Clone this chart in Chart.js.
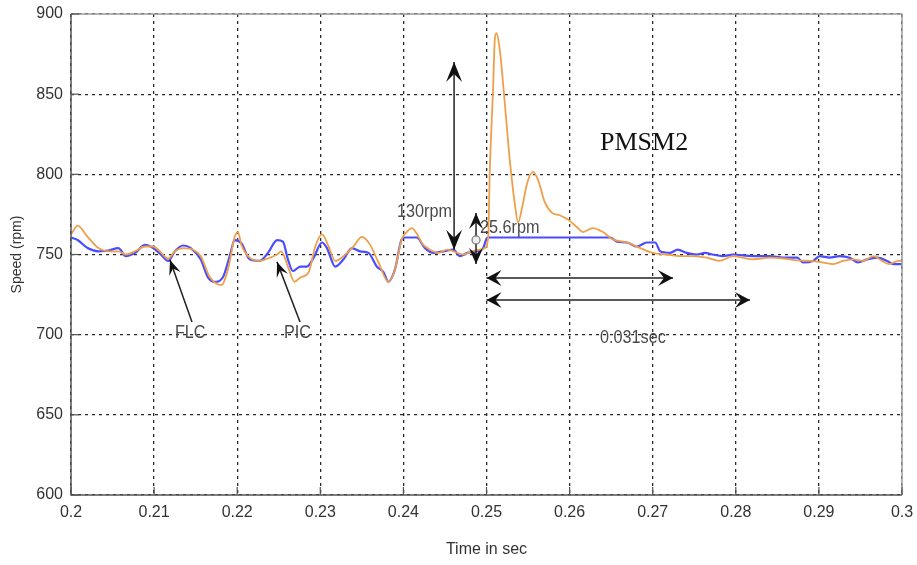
<!DOCTYPE html>
<html>
<head>
<meta charset="utf-8">
<title>PMSM2 speed response</title>
<script src="https://cdn.jsdelivr.net/npm/chart.js@4.4.1/dist/chart.umd.min.js"></script>
<style>
  html, body { margin: 0; padding: 0; background: #fff; }
  #wrap { width: 917px; height: 565px; }
</style>
</head>
<body>
<div id="wrap"><canvas id="speed-chart" width="917" height="565"></canvas></div>
<script>
// FLC speed (rpm) against time (s)
const flcTime = [
  0.2000, 0.2008, 0.2020, 0.2033, 0.2045, 0.2057, 0.2066, 0.2077, 0.2089, 0.2099,
  0.2108, 0.2117, 0.2125, 0.2135, 0.2144, 0.2156, 0.2165, 0.2173, 0.2183, 0.2191,
  0.2197, 0.2205, 0.2215, 0.2227, 0.2237, 0.2248, 0.2255, 0.2261, 0.2267, 0.2276,
  0.2284, 0.2292, 0.2302, 0.2308, 0.2318, 0.2328, 0.2338, 0.2348, 0.2358, 0.2368,
  0.2376, 0.2382, 0.2390, 0.2398, 0.2402, 0.2416, 0.2426, 0.2436, 0.2448, 0.2460,
  0.2468, 0.2477, 0.2489, 0.2496, 0.2501, 0.2649, 0.2657, 0.2669, 0.2681, 0.2693,
  0.2703, 0.2709, 0.2721, 0.2730, 0.2741, 0.2753, 0.2763, 0.2772, 0.2784, 0.2797,
  0.2820, 0.2841, 0.2857, 0.2874, 0.2881, 0.2893, 0.2901, 0.2913, 0.2925, 0.2937,
  0.2947, 0.2958, 0.2970, 0.2982, 0.2990, 0.3000
];
const flcSpeed = [
  760.6, 759, 754, 752, 752.5, 754, 749, 751, 756, 754,
  750, 746, 752, 755.6, 754, 747, 735.6, 733, 736, 749,
  759, 757, 747, 746, 751, 759, 758, 747, 739.7, 742.5,
  742.5, 748, 757.5, 754, 742.5, 747, 754, 752, 751, 742.5,
  739, 733, 741, 759.5, 760.6, 760.6, 754, 751, 752, 753,
  749, 751, 752, 754, 760.6, 760.6, 758, 757.5, 755, 757.5,
  757.5, 752, 751, 753, 751, 750, 751, 750, 749, 750,
  749, 749, 748, 748, 745, 746, 749, 748, 749, 748,
  745, 747, 748, 746, 744, 744
];

// PIC speed (rpm) against time (s)
const picTime = [
  0.2000, 0.2008, 0.2020, 0.2033, 0.2045, 0.2057, 0.2066, 0.2077, 0.2089, 0.2099,
  0.2105, 0.2117, 0.2125, 0.2135, 0.2147, 0.2156, 0.2167, 0.2181, 0.2189, 0.2197,
  0.2201, 0.2205, 0.2215, 0.2227, 0.2237, 0.2248, 0.2253, 0.2261, 0.2269, 0.2276,
  0.2286, 0.2294, 0.2302, 0.2310, 0.2318, 0.2328, 0.2340, 0.2350, 0.2360, 0.2370,
  0.2382, 0.2390, 0.2398, 0.2404, 0.2410, 0.2424, 0.2432, 0.2442, 0.2453, 0.2465,
  0.2472, 0.2482, 0.2492, 0.2498, 0.2502, 0.2504, 0.2508, 0.2510, 0.2512, 0.2516,
  0.2522, 0.2528, 0.2534, 0.2538, 0.2543, 0.2549, 0.2556, 0.2562, 0.2570, 0.2579,
  0.2588, 0.2598, 0.2609, 0.2616, 0.2628, 0.2640, 0.2652, 0.2669, 0.2685, 0.2700,
  0.2717, 0.2733, 0.2749, 0.2765, 0.2780, 0.2797, 0.2820, 0.2841, 0.2857, 0.2874,
  0.2889, 0.2905, 0.2917, 0.2929, 0.2941, 0.2953, 0.2966, 0.2976, 0.2984, 0.2996,
  0.3000
];
const picSpeed = [
  762.5, 768, 761, 754, 752, 752, 750, 752, 755, 755,
  753, 747.5, 752, 754, 753, 749, 736, 731, 741, 761,
  764, 756, 748, 746, 747.5, 750, 752, 742.5, 733, 735.6,
  739, 755, 762.5, 755, 746, 749, 755, 761, 756, 745,
  733, 741, 759.5, 764, 766.5, 756, 753, 751, 753, 751,
  750, 752, 753, 754, 761, 803, 854.5, 884, 888, 877.6,
  844.5, 809, 782, 770, 779.7, 794.6, 801.5, 796.5, 782.8, 776,
  774.5, 771.8, 767, 764, 766.5, 764, 759.4, 757.5, 754, 751,
  750, 749, 749, 748, 746, 749, 747, 748, 747.5, 746.3,
  746, 745, 744, 746, 747, 746, 749, 746, 744, 746,
  746
];

// axis ticks
const timeTicks = [0.2, 0.21, 0.22, 0.23, 0.24, 0.25, 0.26, 0.27, 0.28, 0.29, 0.3];
const speedTicks = [600, 650, 700, 750, 800, 850, 900];

// arrows and notes, in data units (time, rpm)
const arrowMarks = [
  { x1: 0.2461, y1: 753, x2: 0.2461, y2: 870, heads: "both", len: 20, half: 8 },
  { x1: 0.24874, y1: 744.1, x2: 0.24874, y2: 775.9, heads: "both", len: 16, half: 7 },
  { x1: 0.2500, y1: 735.4, x2: 0.27244, y2: 735.4, heads: "both", len: 15, half: 8 },
  { x1: 0.2500, y1: 721.6, x2: 0.28171, y2: 721.6, heads: "both", len: 15, half: 8 },
  { x1: 0.21456, y1: 707.9, x2: 0.21191, y2: 746.6, heads: "end", len: 15, half: 6 },
  { x1: 0.22756, y1: 707.9, x2: 0.22479, y2: 745.4, heads: "end", len: 15, half: 6 },
];
const noteLabels = [
  { x: 0.23923, y: 776.5, text: "130rpm" },
  { x: 0.24922, y: 766.6, text: "25.6rpm" },
  { x: 0.26366, y: 697.9, text: "0.031sec" },
  { x: 0.21251, y: 701, text: "FLC" },
  { x: 0.22563, y: 701, text: "PIC" },
];
const plotTitle = { x: 0.26366, y: 819.6, text: "PMSM2" };

const sans = "'Liberation Sans', Arial, sans-serif";

function drawHead(ctx, tx, ty, dx, dy, len, half) {
  const n = Math.hypot(dx, dy);
  const ux = dx / n, uy = dy / n;
  const px = -uy, py = ux;
  const bx = tx - ux * len, by = ty - uy * len;
  ctx.beginPath();
  ctx.moveTo(tx, ty);
  ctx.lineTo(bx + px * half, by + py * half);
  ctx.lineTo(tx - ux * len * 0.6, ty - uy * len * 0.6);
  ctx.lineTo(bx - px * half, by - py * half);
  ctx.closePath();
  ctx.fill();
}

// squeezed text, the labels are set in a narrow face
function narrowText(ctx, text, x, y, squeeze) {
  ctx.save();
  ctx.translate(x, y);
  ctx.scale(squeeze, 1);
  ctx.fillText(text, 0, 0);
  ctx.restore();
}

// frame, inner tick marks, arrows and text notes
const overlayPlugin = {
  id: "overlay",
  afterDatasetsDraw(chart) {
    const { ctx, chartArea: a, scales } = chart;
    const sx = scales.x, sy = scales.y;
    ctx.save();

    // axes box
    ctx.strokeStyle = "#9a9a9a";
    ctx.lineWidth = 1.5;
    ctx.beginPath();
    ctx.moveTo(a.left, a.top);
    ctx.lineTo(a.right, a.top);
    ctx.lineTo(a.right, a.bottom);
    ctx.stroke();
    ctx.strokeStyle = "#555";
    ctx.beginPath();
    ctx.moveTo(a.left, a.top);
    ctx.lineTo(a.left, a.bottom);
    ctx.lineTo(a.right, a.bottom);
    ctx.stroke();

    // MATLAB-style inward ticks
    ctx.lineWidth = 1.2;
    timeTicks.forEach((t) => {
      const x = sx.getPixelForValue(t);
      ctx.beginPath();
      ctx.moveTo(x, a.bottom);
      ctx.lineTo(x, a.bottom - 8);
      ctx.stroke();
    });
    speedTicks.forEach((v) => {
      const y = sy.getPixelForValue(v);
      ctx.beginPath();
      ctx.moveTo(a.left, y);
      ctx.lineTo(a.left + 8, y);
      ctx.stroke();
    });

    // arrows
    ctx.strokeStyle = "#222";
    ctx.fillStyle = "#111";
    ctx.lineWidth = 1.5;
    arrowMarks.forEach((m) => {
      const x1 = sx.getPixelForValue(m.x1), y1 = sy.getPixelForValue(m.y1);
      const x2 = sx.getPixelForValue(m.x2), y2 = sy.getPixelForValue(m.y2);
      ctx.beginPath();
      ctx.moveTo(x1, y1);
      ctx.lineTo(x2, y2);
      ctx.stroke();
      drawHead(ctx, x2, y2, x2 - x1, y2 - y1, m.len, m.half);
      if (m.heads === "both") drawHead(ctx, x1, y1, x1 - x2, y1 - y2, m.len, m.half);
    });

    // small marker on the 25.6rpm arrow
    ctx.beginPath();
    ctx.arc(sx.getPixelForValue(0.24874), sy.getPixelForValue(759.1), 4, 0, Math.PI * 2);
    ctx.fillStyle = "#eee";
    ctx.fill();
    ctx.strokeStyle = "#777";
    ctx.lineWidth = 1.2;
    ctx.stroke();

    // notes
    ctx.fillStyle = "#4a4a4a";
    ctx.font = "18px " + sans;
    ctx.textBaseline = "middle";
    ctx.textAlign = "left";
    noteLabels.forEach((n) => {
      narrowText(ctx, n.text, sx.getPixelForValue(n.x), sy.getPixelForValue(n.y), 0.9);
    });
    ctx.fillStyle = "#111";
    ctx.font = "26px 'Liberation Serif', 'Times New Roman', serif";
    ctx.fillText(plotTitle.text, sx.getPixelForValue(plotTitle.x), sy.getPixelForValue(plotTitle.y));

    ctx.restore();
  },
};

new Chart(document.getElementById("speed-chart"), {
  type: "line",
  data: {
    datasets: [
      {
        label: "PIC",
        data: picTime.map((t, i) => ({ x: t, y: picSpeed[i] })),
        borderColor: "#ef9f4a",
        borderWidth: 1.8,
        pointRadius: 0,
        cubicInterpolationMode: "monotone",
      },
      {
        label: "FLC",
        data: flcTime.map((t, i) => ({ x: t, y: flcSpeed[i] })),
        borderColor: "#4a4cff",
        borderWidth: 2.2,
        pointRadius: 0,
        cubicInterpolationMode: "monotone",
      },
    ],
  },
  options: {
    responsive: false,
    animation: false,
    devicePixelRatio: 1,
    layout: { padding: { top: 14, right: 15, left: 0, bottom: 0 } },
    plugins: { legend: { display: false }, tooltip: { enabled: false } },
    scales: {
      x: {
        type: "linear",
        min: 0.2,
        max: 0.3,
        afterBuildTicks: (scale) => {
          scale.ticks = timeTicks.map((v) => ({ value: v }));
        },
        afterFit: (scale) => {
          scale.height = 70;
          scale.paddingLeft = 0;
          scale.paddingRight = 0;
        },
        ticks: {
          color: "#333",
          font: { family: sans, size: 16 },
          padding: 8,
          maxRotation: 0,
          autoSkip: false,
          callback: (v) => String(Number(v.toFixed(2))),
        },
        grid: { color: "#2a2a2a", lineWidth: 1.3, drawTicks: false },
        border: { display: false, dash: [3, 4] },
        title: {
          display: true,
          text: "Time in sec",
          color: "#333",
          font: { family: sans, size: 16 },
          padding: { top: 0, bottom: 6 },
        },
      },
      y: {
        min: 600,
        max: 900,
        afterBuildTicks: (scale) => {
          scale.ticks = speedTicks.map((v) => ({ value: v }));
        },
        afterFit: (scale) => {
          scale.width = 71;
          scale.paddingTop = 0;
          scale.paddingBottom = 0;
        },
        ticks: {
          color: "#333",
          font: { family: sans, size: 16 },
          padding: 8,
        },
        grid: { color: "#2a2a2a", lineWidth: 1.3, drawTicks: false },
        border: { display: false, dash: [3, 4] },
        title: {
          display: true,
          text: "Speed (rpm)",
          color: "#333",
          font: { family: sans, size: 14 },
          padding: { top: 9, bottom: 0 },
        },
      },
    },
  },
  plugins: [overlayPlugin],
});
</script>
</body>
</html>
